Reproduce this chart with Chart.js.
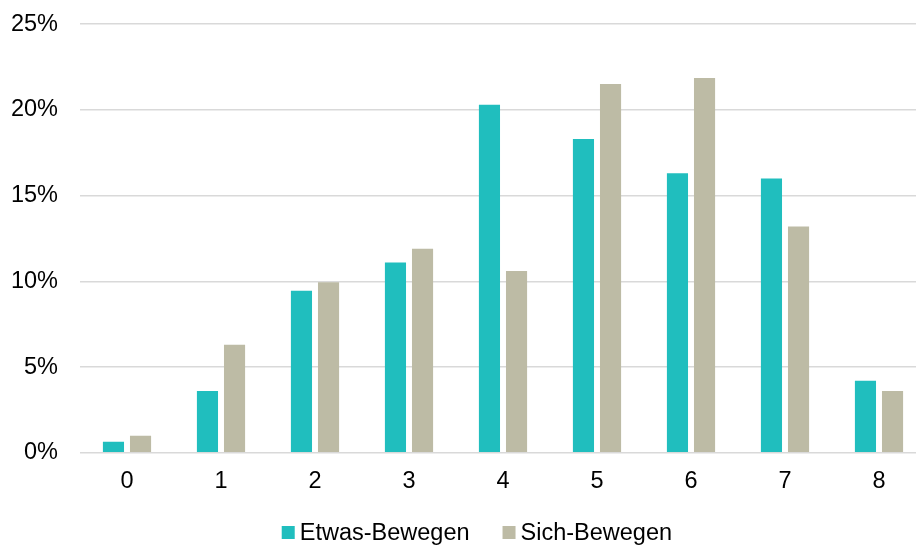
<!DOCTYPE html>
<html>
<head>
<meta charset="utf-8">
<script src="https://cdn.jsdelivr.net/npm/chart.js@4/dist/chart.umd.min.js"></script>
<style>
  html, body { margin: 0; padding: 0; background: #fff; overflow: hidden; }
  #wrap { width: 916px; height: 545px; overflow: hidden; }
  #c { display: block; margin-top: -12px; }
</style>
</head>
<body>
<div id="wrap"><canvas id="c" width="926" height="557"></canvas></div>
<script>
// Categories on the x axis
const categories = ['0', '1', '2', '3', '4', '5', '6', '7', '8'];
// Shares in percent per category
const etwasBewegen = [0.65, 3.6, 9.45, 11.1, 20.3, 18.3, 16.3, 16.0, 4.2];
const sichBewegen  = [1.0, 6.3, 9.95, 11.9, 10.6, 21.5, 21.85, 13.2, 3.6];
// Y axis range and step
const yMin = 0, yMax = 25, yStep = 5;

const FONT = 'Arial, "Liberation Sans", sans-serif';
const FONT_SIZE = 23.5;

// Legend drawn as one compact row under the axis: small square, short gap, label
const legendRow = {
  id: 'legendRow',
  afterDraw(chart) {
    const ctx = chart.ctx;
    const box = 13, gap = 5, itemGap = 33;
    ctx.save();
    ctx.font = FONT_SIZE + 'px ' + FONT;
    ctx.textBaseline = 'middle';
    const items = chart.data.datasets.map(ds => ({
      text: ds.label, color: ds.backgroundColor, w: ctx.measureText(ds.label).width
    }));
    const total = items.reduce((s, it) => s + box + gap + it.w, 0) + itemGap * (items.length - 1);
    let x = chart.width * 0.515 - total / 2;
    const y = chart.height - 12.5;
    items.forEach(it => {
      ctx.fillStyle = it.color;
      ctx.fillRect(x, y - box / 2, box, box);
      ctx.fillStyle = '#000';
      ctx.fillText(it.text, x + box + gap, y + 1);
      x += box + gap + it.w + itemGap;
    });
    ctx.restore();
  }
};

new Chart(document.getElementById('c'), {
  type: 'bar',
  data: {
    labels: categories,
    datasets: [
      { label: 'Etwas-Bewegen', data: etwasBewegen, backgroundColor: '#20bebe' },
      { label: 'Sich-Bewegen', data: sichBewegen, backgroundColor: '#bdbba5' }
    ]
  },
  plugins: [legendRow],
  options: {
    responsive: false,
    animation: false,
    categoryPercentage: 0.576,
    barPercentage: 0.78,
    layout: { padding: { top: 0, right: 0, left: 0, bottom: 34 } },
    plugins: {
      tooltip: { enabled: false },
      legend: { display: false }
    },
    scales: {
      x: {
        grid: { display: false, drawTicks: false },
        border: { display: false },
        ticks: { font: { family: FONT, size: FONT_SIZE }, color: '#000', padding: 15 }
      },
      y: {
        min: yMin, max: yMax,
        grid: { color: '#d9d9d9', lineWidth: 1.5, drawTicks: false },
        border: { display: false },
        ticks: {
          stepSize: yStep,
          font: { family: FONT, size: FONT_SIZE },
          color: '#000',
          padding: 22,
          callback: v => v + '%'
        },
        afterFit: s => { s.width = 80; }
      }
    }
  }
});
</script>
</body>
</html>
